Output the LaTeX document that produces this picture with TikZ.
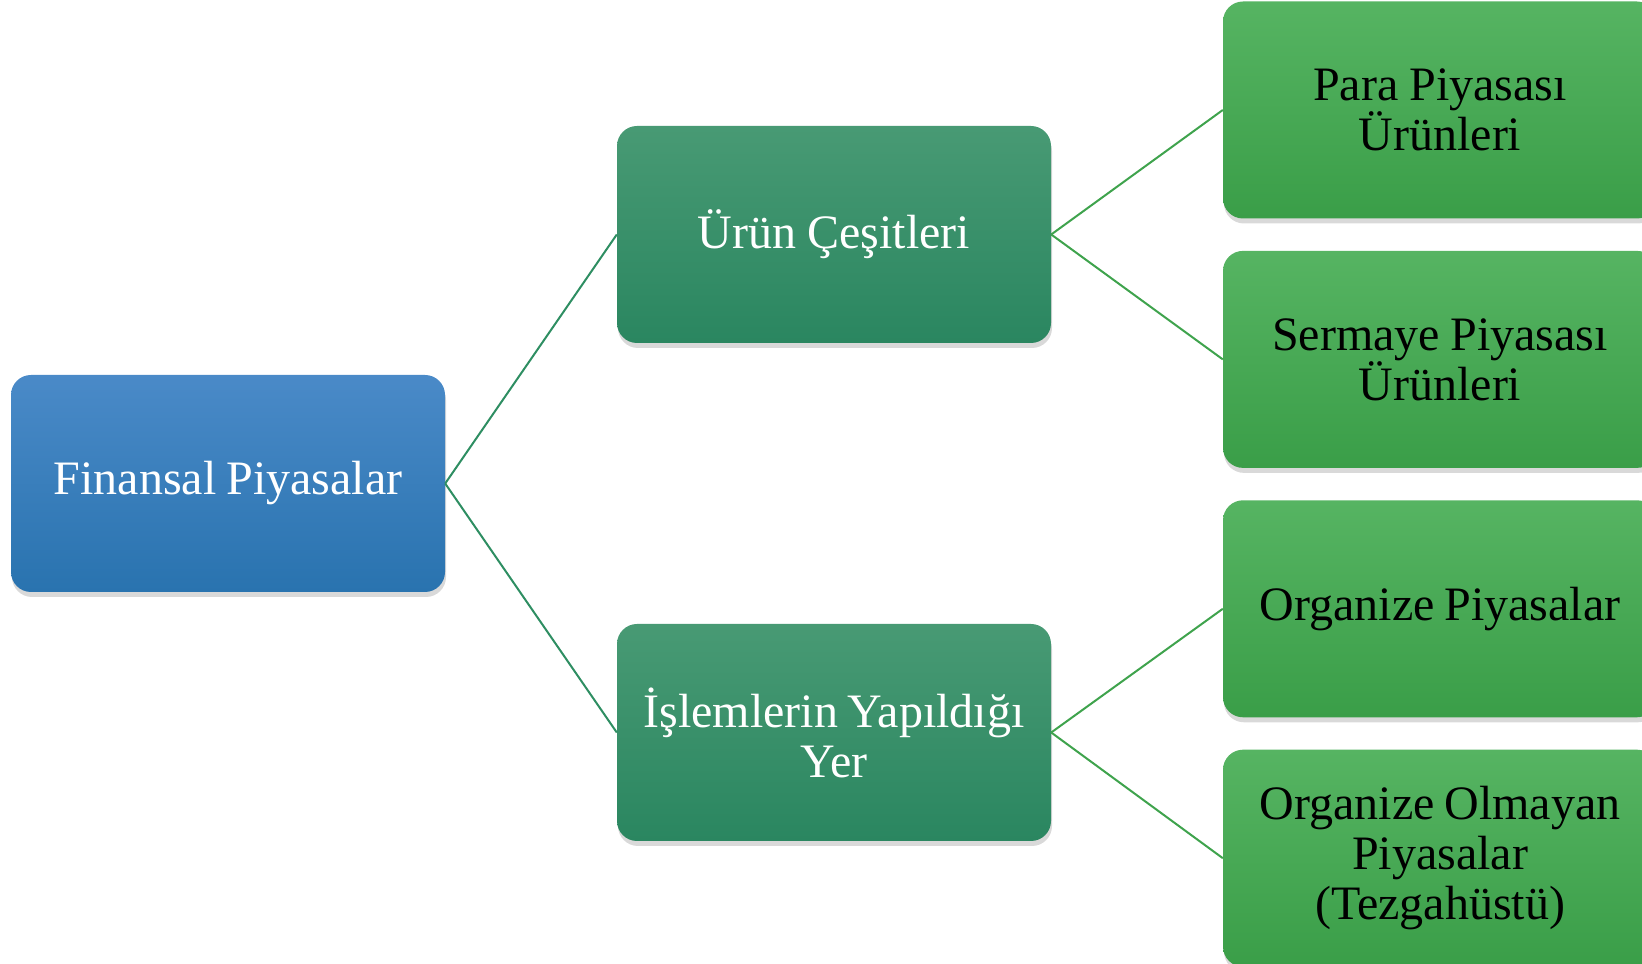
\documentclass[tikz,border=0pt]{standalone}
\usepackage{fontspec}
\setmainfont{Liberation Serif}
\usetikzlibrary{shadows, positioning}
\definecolor{blueTop}{HTML}{4A8AC8}
\definecolor{blueBot}{HTML}{2973AF}
\definecolor{dgreenTop}{HTML}{489A74}
\definecolor{dgreenBot}{HTML}{2A8660}
\definecolor{lgreenTop}{HTML}{56B462}
\definecolor{lgreenBot}{HTML}{3A9E48}
\definecolor{lineDark}{HTML}{2E8E62}
\definecolor{lineLight}{HTML}{3FA34D}
\newcommand\boxfont{\fontsize{48}{50}\selectfont}
\newcommand\tightsp{\spaceskip=0.19em plus 0.05em\relax}

\begin{document}
\begin{tikzpicture}[
x=1pt, y=1pt,
box/.style     ={rectangle, rounded corners=20pt, minimum width=434pt, minimum height=217pt,
                 text width=420pt, align=center, inner sep=0pt, font=\boxfont,
                 execute at begin node=\tightsp,
                 drop shadow={shadow xshift=1pt, shadow yshift=-5pt, opacity=0.3, fill=black!50}},
root/.style    ={box, top color=blueTop, bottom color=blueBot, text=white},
group/.style   ={box, top color=dgreenTop, bottom color=dgreenBot, text=white},
leaf/.style    ={box, top color=lgreenTop, bottom color=lgreenBot, text=black},
link/.style    ={draw=lineDark, line width=2pt},
sublink/.style ={draw=lineLight, line width=2pt},
]
\useasboundingbox (0,0) rectangle (1642,964);

% Define the nodes
\node[root]  at (228,480.5)   (fp) {Finansal Piyasalar};
\node[group] at (834,729.5)   (uc) {Ürün Çeşitleri};
\node[group] at (834,231.5)   (iy) {İşlemlerin Yapıldığı\\Yer};
\node[leaf]  at (1440,854)    (pp) {Para Piyasası\\Ürünleri};
\node[leaf,  below=32pt of pp] (sp) {Sermaye Piyasası\\Ürünleri};
\node[leaf,  below=32pt of sp] (op) {Organize Piyasalar};
\node[leaf,  below=32pt of op] (oo) {Organize Olmayan\\Piyasalar\\(Tezgahüstü)};

% Connect the nodes
\path[link] (fp.east) -- (uc.west);
\path[link] (fp.east) -- (iy.west);
\path[sublink] (uc.east) -- (pp.west);
\path[sublink] (uc.east) -- (sp.west);
\path[sublink] (iy.east) -- (op.west);
\path[sublink] (iy.east) -- (oo.west);

\end{tikzpicture}
\end{document}
